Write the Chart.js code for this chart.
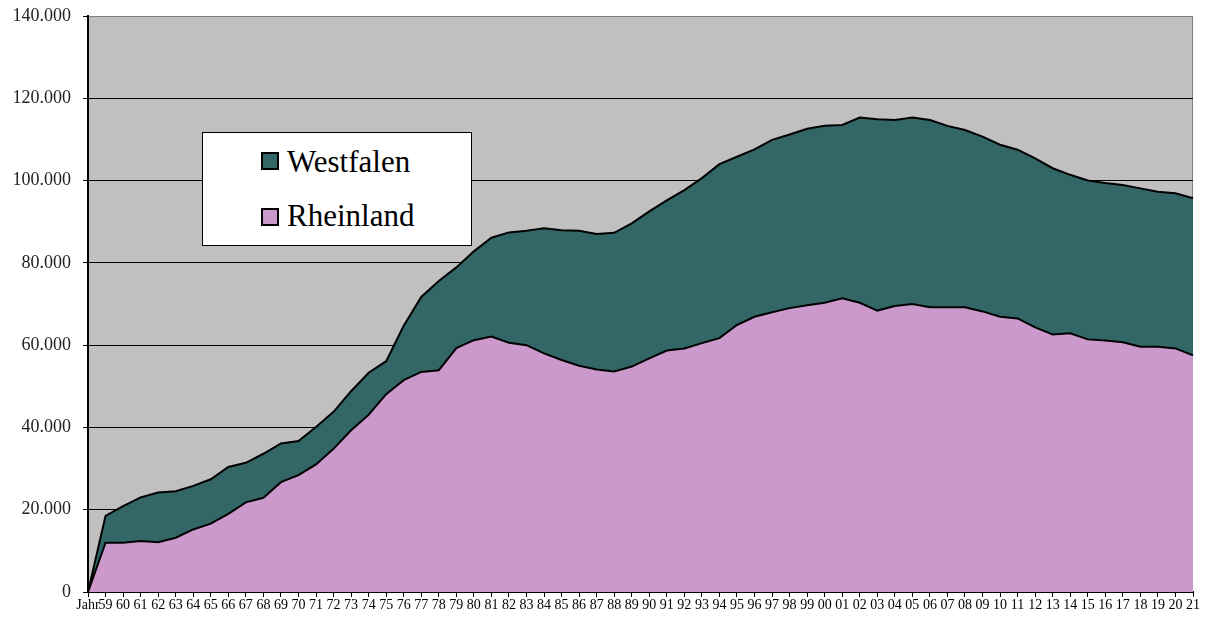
<!DOCTYPE html>
<html>
<head>
<meta charset="utf-8">
<script src="https://cdn.jsdelivr.net/npm/chart.js@4"></script>
<style>
  body { margin: 0; background: #fff; }
  #wrap { position: relative; width: 1209px; height: 620px; }
  #legend {
    position: absolute; left: 202px; top: 132px; width: 268px; height: 112px;
    background: #fff; border: 1px solid #000; font-family: 'Liberation Serif', 'Times New Roman', serif;
  }
  .sw { position: absolute; left: 58px; width: 14px; height: 14px; border: 2px solid #000; }
  .lbl { position: absolute; left: 84px; font-size: 31px; line-height: 31px; color: #000; }
</style>
</head>
<body>
<div id="wrap">
  <canvas id="chart"></canvas>
  <div id="legend">
    <div class="sw" style="top:19px;background:#336666"></div>
    <div class="lbl" style="top:13px">Westfalen</div>
    <div class="sw" style="top:75px;background:#CC99CC"></div>
    <div class="lbl" style="top:67px">Rheinland</div>
  </div>
</div>
<script>
// categories (Jahr = header cell, value 0)
const years = ['Jahr',
  '59','60','61','62','63','64','65','66','67','68','69','70','71','72','73','74','75','76','77','78','79',
  '80','81','82','83','84','85','86','87','88','89','90','91','92','93','94','95','96','97','98','99',
  '00','01','02','03','04','05','06','07','08','09','10','11','12','13','14','15','16','17','18','19','20','21'];

const rheinland = [0,
  12000,12000,12400,12100,13200,15200,16600,19000,21800,22900,26700,28400,31000,34800,39300,43100,48100,51500,53500,53900,59300,
  61200,62100,60600,60000,58000,56400,55000,54100,53600,54800,56800,58700,59200,60500,61700,64900,66900,68000,69000,69700,
  70300,71400,70300,68400,69500,70000,69200,69200,69200,68200,66900,66500,64300,62600,62900,61400,61100,60700,59600,59600,59200,57500];

const westfalen = [0,
  6500,8900,10600,12100,11300,10600,10800,11400,9600,10700,9400,8300,9100,9000,9500,10200,8000,13200,18200,21700,19600,
  21600,24000,26800,27800,30400,31500,32800,32900,33700,34800,35700,36500,38500,40100,42300,40900,40700,41900,42200,42900,
  43000,42100,45000,46500,45200,45300,45500,44100,43100,42500,41800,41000,41100,40400,38500,38600,38300,38200,38500,37700,37700,38200];

const yMax = 140000;
const yStep = 20000;

// grey plot background + frame
const plotBg = {
  id: 'plotBg',
  beforeDraw(chart) {
    const { ctx, chartArea: a } = chart;
    ctx.save();
    ctx.fillStyle = '#C0C0C0';
    ctx.fillRect(a.left, a.top, a.right - a.left, a.bottom - a.top);
    ctx.strokeStyle = '#808080';
    ctx.lineWidth = 1;
    ctx.strokeRect(a.left + 0.5, a.top + 0.5, a.right - a.left - 1, a.bottom - a.top);
    ctx.restore();
  }
};

new Chart(document.getElementById('chart'), {
  type: 'line',
  data: {
    labels: years,
    datasets: [
      { label: 'Rheinland', data: rheinland, backgroundColor: '#CC99CC', borderColor: '#000',
        borderWidth: 2, fill: 'origin', pointRadius: 0, tension: 0 },
      { label: 'Westfalen', data: westfalen, backgroundColor: '#336666', borderColor: '#000',
        borderWidth: 2, fill: '-1', pointRadius: 0, tension: 0 }
    ]
  },
  options: {
    responsive: true,
    maintainAspectRatio: false,
    animation: false,
    layout: { padding: { top: 16, right: 16, left: 0, bottom: 0 } },
    plugins: { legend: { display: false }, tooltip: { enabled: false } },
    scales: {
      x: {
        offset: false,
        grid: { drawOnChartArea: false, drawTicks: true, tickLength: 5, color: '#000' },
        border: { color: '#000', width: 2 },
        ticks: { autoSkip: false, maxRotation: 0, minRotation: 0, padding: 0, color: '#000',
                 font: { family: 'Liberation Serif', size: 14 } },
        afterFit(s) { s.height = 28; }
      },
      y: {
        stacked: true,
        min: 0, max: yMax,
        grid: { color: c => c.tick && c.tick.value === yMax ? '#808080' : '#000', tickLength: 5, tickColor: '#000' },
        border: { color: '#000', width: 2 },
        ticks: { stepSize: yStep, padding: 12, color: '#222',
                 font: { family: 'Liberation Serif', size: 18 },
                 callback: v => v === 0 ? '0' : (v / 1000) + '.000' },
        afterFit(s) { s.width = 88; s.paddingTop = 0; s.paddingBottom = 0; }
      }
    }
  },
  plugins: [plotBg]
});
</script>
</body>
</html>
